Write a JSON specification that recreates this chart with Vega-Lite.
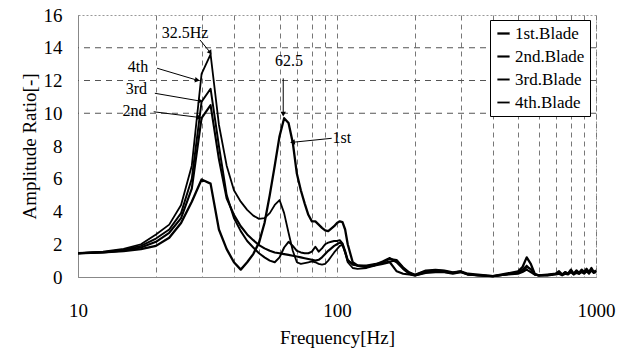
{
  "$schema": "https://vega.github.io/schema/vega-lite/v6.json",
  "width": 518,
  "height": 262,
  "autosize": {"type": "none"},
  "padding": {"left": 78, "top": 15, "right": 23, "bottom": 77},
  "background": "white",
  "config": {
    "font": "Liberation Serif",
    "view": {"stroke": "#999", "strokeDash": [2, 2]},
    "axis": {"labelFont": "Liberation Serif", "titleFont": "Liberation Serif", "labelColor": "black", "titleColor": "black", "titleFontWeight": "normal", "titleFontSize": 19, "labelFontSize": 19, "ticks": false, "labelFlush": false, "labelOverlap": false, "domainColor": "#888",
      "encode": {"labels": {"update": {"font": {"value": "Liberation Serif"}}}, "title": {"update": {"font": {"value": "Liberation Serif"}}}}},
    "axisX": {
      "values": [10, 20, 30, 40, 50, 60, 70, 80, 90, 100, 200, 300, 400, 500, 600, 700, 800, 900, 1000],
      "format": "d",
      "labelExpr": "datum.value == 10 || datum.value == 100 || datum.value == 1000 ? datum.label : ''",
      "labelPadding": 24, "titlePadding": 8,
      "grid": true, "gridColor": "#777", "gridDash": [5, 4], "gridWidth": 1
    },
    "axisY": {
      "values": [0, 2, 4, 6, 8, 10, 12, 14, 16],
      "labelPadding": 16, "titlePadding": 4,
      "grid": false
    },
    "legend": {"labelFont": "Liberation Serif"},
    "text": {"font": "Liberation Serif"}
  },
  "datasets": {
    "curves": [
      {"f": 10, "b1": 1.45, "b2": 1.45, "b3": 1.45, "b4": 1.45},
      {"f": 12.5, "b1": 1.5, "b2": 1.5, "b3": 1.52, "b4": 1.55},
      {"f": 15, "b1": 1.58, "b2": 1.62, "b3": 1.66, "b4": 1.72},
      {"f": 17.5, "b1": 1.7, "b2": 1.8, "b3": 1.9, "b4": 2.0},
      {"f": 20, "b1": 1.9, "b2": 2.15, "b3": 2.35, "b4": 2.6},
      {"f": 22.5, "b1": 2.4, "b2": 2.7, "b3": 2.9, "b4": 3.2},
      {"f": 25, "b1": 3.3, "b2": 3.6, "b3": 3.9, "b4": 4.4},
      {"f": 27.5, "b1": 4.6, "b2": 5.4, "b3": 6.0, "b4": 6.8},
      {"f": 30, "b1": 5.95, "b2": 9.7, "b3": 10.7, "b4": 12.4},
      {"f": 32.5, "b1": 5.7, "b2": 10.5, "b3": 11.5, "b4": 13.6},
      {"f": 35, "b1": 2.9, "b2": 7.2, "b3": 8.0, "b4": 9.3},
      {"f": 37.5, "b1": 1.7, "b2": 4.8, "b3": 5.0, "b4": 6.8},
      {"f": 40, "b1": 0.9, "b2": 3.8, "b3": 3.6, "b4": 5.3},
      {"f": 42.5, "b1": 0.45, "b2": 3.1, "b3": 2.8, "b4": 4.6},
      {"f": 45, "b1": 0.9, "b2": 2.6, "b3": 2.2, "b4": 4.1},
      {"f": 47.5, "b1": 1.4, "b2": 2.25, "b3": 1.8, "b4": 3.75},
      {"f": 50, "b1": 2.1, "b2": 1.95, "b3": 1.45, "b4": 3.55},
      {"f": 52.5, "b1": 3.3, "b2": 1.75, "b3": 1.2, "b4": 3.6},
      {"f": 55, "b1": 5.0, "b2": 1.6, "b3": 1.0, "b4": 3.9},
      {"f": 57.5, "b1": 6.8, "b2": 1.5, "b3": 0.9, "b4": 4.4},
      {"f": 60, "b1": 8.6, "b2": 1.45, "b3": 1.2, "b4": 4.7},
      {"f": 62.5, "b1": 9.7, "b2": 1.4, "b3": 1.8, "b4": 3.9},
      {"f": 65, "b1": 9.4, "b2": 1.35, "b3": 2.15, "b4": 2.7},
      {"f": 67.5, "b1": 8.2, "b2": 1.3, "b3": 1.9, "b4": 1.6},
      {"f": 70, "b1": 6.3, "b2": 1.25, "b3": 1.6, "b4": 0.9},
      {"f": 72.5, "b1": 5.3, "b2": 1.2, "b3": 1.5, "b4": 0.8},
      {"f": 75, "b1": 4.5, "b2": 1.15, "b3": 1.45, "b4": 0.85},
      {"f": 77.5, "b1": 3.8, "b2": 1.1, "b3": 1.45, "b4": 0.9},
      {"f": 80, "b1": 3.4, "b2": 1.05, "b3": 1.55, "b4": 0.95},
      {"f": 82.5, "b1": 3.4, "b2": 1.0, "b3": 1.85, "b4": 0.9},
      {"f": 85, "b1": 3.2, "b2": 1.05, "b3": 1.55, "b4": 0.8},
      {"f": 87.5, "b1": 3.0, "b2": 1.2, "b3": 1.75, "b4": 0.75},
      {"f": 90, "b1": 2.85, "b2": 1.4, "b3": 2.0, "b4": 0.8},
      {"f": 92.5, "b1": 2.8, "b2": 1.6, "b3": 2.1, "b4": 1.0},
      {"f": 95, "b1": 2.95, "b2": 1.75, "b3": 2.15, "b4": 1.25},
      {"f": 97.5, "b1": 3.1, "b2": 1.9, "b3": 2.2, "b4": 1.5},
      {"f": 100, "b1": 3.3, "b2": 2.0, "b3": 2.2, "b4": 1.7},
      {"f": 102.5, "b1": 3.4, "b2": 2.1, "b3": 2.25, "b4": 1.9},
      {"f": 105, "b1": 3.35, "b2": 2.0, "b3": 2.05, "b4": 1.95},
      {"f": 107.5, "b1": 2.9, "b2": 1.5, "b3": 1.6, "b4": 1.5},
      {"f": 110, "b1": 2.0, "b2": 1.0, "b3": 1.05, "b4": 0.9},
      {"f": 115, "b1": 0.9, "b2": 0.8, "b3": 0.75, "b4": 0.55},
      {"f": 120, "b1": 0.7, "b2": 0.7, "b3": 0.7, "b4": 0.5},
      {"f": 130, "b1": 0.6, "b2": 0.65, "b3": 0.7, "b4": 0.55},
      {"f": 140, "b1": 0.75, "b2": 0.7, "b3": 0.8, "b4": 0.7},
      {"f": 150, "b1": 0.95, "b2": 0.8, "b3": 0.85, "b4": 0.9},
      {"f": 160, "b1": 1.15, "b2": 0.9, "b3": 0.95, "b4": 1.1},
      {"f": 170, "b1": 0.9, "b2": 0.35, "b3": 1.0, "b4": 1.05},
      {"f": 180, "b1": 0.5, "b2": 0.2, "b3": 0.55, "b4": 0.6},
      {"f": 190, "b1": 0.2, "b2": 0.15, "b3": 0.25, "b4": 0.3},
      {"f": 200, "b1": 0.1, "b2": 0.1, "b3": 0.12, "b4": 0.15},
      {"f": 220, "b1": 0.3, "b2": 0.25, "b3": 0.35, "b4": 0.4},
      {"f": 240, "b1": 0.4, "b2": 0.3, "b3": 0.35, "b4": 0.45},
      {"f": 260, "b1": 0.35, "b2": 0.3, "b3": 0.3, "b4": 0.4},
      {"f": 280, "b1": 0.25, "b2": 0.2, "b3": 0.25, "b4": 0.3},
      {"f": 300, "b1": 0.35, "b2": 0.3, "b3": 0.3, "b4": 0.35},
      {"f": 320, "b1": 0.2, "b2": 0.15, "b3": 0.15, "b4": 0.15},
      {"f": 350, "b1": 0.15, "b2": 0.1, "b3": 0.1, "b4": 0.1},
      {"f": 400, "b1": 0.05, "b2": 0.05, "b3": 0.05, "b4": 0.05},
      {"f": 450, "b1": 0.2, "b2": 0.15, "b3": 0.15, "b4": 0.15},
      {"f": 500, "b1": 0.35, "b2": 0.2, "b3": 0.25, "b4": 0.3},
      {"f": 520, "b1": 0.6, "b2": 0.3, "b3": 0.35, "b4": 0.45},
      {"f": 540, "b1": 1.2, "b2": 0.45, "b3": 0.6, "b4": 0.7},
      {"f": 560, "b1": 0.8, "b2": 0.3, "b3": 0.5, "b4": 0.45},
      {"f": 580, "b1": 0.2, "b2": 0.15, "b3": 0.15, "b4": 0.15},
      {"f": 600, "b1": 0.1, "b2": 0.1, "b3": 0.1, "b4": 0.1},
      {"f": 650, "b1": 0.15, "b2": 0.1, "b3": 0.12, "b4": 0.1},
      {"f": 700, "b1": 0.2, "b2": 0.15, "b3": 0.2, "b4": 0.2},
      {"f": 720, "b1": 0.35, "b2": 0.2, "b3": 0.25, "b4": 0.3},
      {"f": 740, "b1": 0.15, "b2": 0.1, "b3": 0.15, "b4": 0.15},
      {"f": 760, "b1": 0.3, "b2": 0.2, "b3": 0.25, "b4": 0.3},
      {"f": 780, "b1": 0.2, "b2": 0.15, "b3": 0.2, "b4": 0.2},
      {"f": 800, "b1": 0.45, "b2": 0.3, "b3": 0.35, "b4": 0.4},
      {"f": 820, "b1": 0.2, "b2": 0.15, "b3": 0.2, "b4": 0.2},
      {"f": 840, "b1": 0.4, "b2": 0.25, "b3": 0.3, "b4": 0.35},
      {"f": 860, "b1": 0.25, "b2": 0.2, "b3": 0.2, "b4": 0.25},
      {"f": 880, "b1": 0.45, "b2": 0.3, "b3": 0.35, "b4": 0.4},
      {"f": 900, "b1": 0.3, "b2": 0.2, "b3": 0.25, "b4": 0.3},
      {"f": 920, "b1": 0.5, "b2": 0.35, "b3": 0.4, "b4": 0.45},
      {"f": 940, "b1": 0.3, "b2": 0.2, "b3": 0.25, "b4": 0.3},
      {"f": 960, "b1": 0.55, "b2": 0.4, "b3": 0.45, "b4": 0.5},
      {"f": 980, "b1": 0.3, "b2": 0.25, "b3": 0.3, "b4": 0.3},
      {"f": 1000, "b1": 0.4, "b2": 0.3, "b3": 0.35, "b4": 0.35}
    ],
    "labels": [
      {"t": "32.5Hz", "f": 25.9, "a": 14.93},
      {"t": "4th", "f": 17.05, "a": 12.82},
      {"t": "3rd", "f": 16.8, "a": 11.48},
      {"t": "2nd", "f": 16.52, "a": 10.14},
      {"t": "62.5", "f": 65.3, "a": 13.19},
      {"t": "1st", "f": 104.4, "a": 8.49}
    ],
    "arrows": [
      {"n": "hz", "f": 29.6, "a": 14.47, "f2": 32.3, "a2": 13.74},
      {"n": "4th", "f": 20.2, "a": 12.75, "f2": 28.7, "a2": 12.03},
      {"n": "3rd", "f": 19.8, "a": 11.22, "f2": 29.5, "a2": 10.75},
      {"n": "2nd", "f": 19.6, "a": 10.09, "f2": 29.2, "a2": 9.75},
      {"n": "62.5", "f": 62.0, "a": 12.13, "f2": 62.0, "a2": 10.0},
      {"n": "1st", "f": 95.4, "a": 8.47, "f2": 67.8, "a2": 8.23}
    ],
    "hgrid": [{"a": 10}, {"a": 12}, {"a": 14}]
  },
  "layer": [
    {
      "data": {"name": "hgrid"},
      "mark": {"type": "rule", "color": "#555", "strokeDash": [6, 5], "strokeWidth": 1},
      "encoding": {
        "y": {"field": "a", "type": "quantitative", "title": "Amplitude Ratio[-]", "scale": {"domain": [0, 16], "nice": false}}
      }
    },
    {
      "data": {"name": "curves"},
      "transform": [
        {"fold": ["b1", "b2", "b3", "b4"], "as": ["key", "amp"]},
        {"lookup": "key", "from": {"data": {"values": [
          {"key": "b1", "blade": "1st.Blade"},
          {"key": "b2", "blade": "2nd.Blade"},
          {"key": "b3", "blade": "3rd.Blade"},
          {"key": "b4", "blade": "4th.Blade"}
        ]}, "key": "key", "fields": ["blade"]}}
      ],
      "mark": {"type": "line", "strokeJoin": "round"},
      "encoding": {
        "x": {
          "field": "f", "type": "quantitative", "title": "Frequency[Hz]",
          "scale": {"type": "log", "domain": [10, 1000], "nice": false}
        },
        "y": {
          "field": "amp", "type": "quantitative", "title": "Amplitude Ratio[-]",
          "scale": {"domain": [0, 16], "nice": false}
        },
        "color": {
          "field": "blade", "type": "nominal",
          "scale": {"range": ["black", "black", "black", "black"]},
          "legend": {
            "title": null, "orient": "none", "legendX": 412, "legendY": 5,
            "strokeColor": "black", "fillColor": "white", "padding": 5,
            "labelFont": "Liberation Serif", "labelFontSize": 17, "labelColor": "black",
            "symbolType": "stroke", "symbolSize": 150, "symbolStrokeWidth": 2,
            "rowPadding": 5, "labelOffset": 3,
            "encode": {"labels": {"update": {"font": {"value": "Liberation Serif"}}}}
          }
        },
        "strokeWidth": {
          "field": "blade", "type": "nominal",
          "scale": {"range": [2.3, 1.8, 1.4, 1.4]},
          "legend": null
        }
      }
    },
    {
      "data": {"name": "arrows"},
      "mark": {"type": "rule", "color": "black", "strokeWidth": 1},
      "encoding": {
        "x": {"field": "f", "type": "quantitative", "title": "Frequency[Hz]"},
        "y": {"field": "a", "type": "quantitative", "title": "Amplitude Ratio[-]"},
        "x2": {"field": "f2"},
        "y2": {"field": "a2"}
      }
    },
    {
      "data": {"name": "arrows"},
      "transform": [{"filter": "datum.n == '4th' || datum.n == '3rd' || datum.n == '2nd'"}],
      "mark": {"type": "point", "shape": "triangle", "filled": true, "color": "black", "size": 30, "angle": 100, "opacity": 1},
      "encoding": {"x": {"field": "f2", "type": "quantitative", "title": "Frequency[Hz]"}, "y": {"field": "a2", "type": "quantitative", "title": "Amplitude Ratio[-]"}}
    },
    {
      "data": {"name": "arrows"},
      "transform": [{"filter": "datum.n == 'hz'"}],
      "mark": {"type": "point", "shape": "triangle", "filled": true, "color": "black", "size": 30, "angle": 145, "opacity": 1},
      "encoding": {"x": {"field": "f2", "type": "quantitative", "title": "Frequency[Hz]"}, "y": {"field": "a2", "type": "quantitative", "title": "Amplitude Ratio[-]"}}
    },
    {
      "data": {"name": "arrows"},
      "transform": [{"filter": "datum.n == '62.5'"}],
      "mark": {"type": "point", "shape": "triangle", "filled": true, "color": "black", "size": 30, "angle": 180, "opacity": 1},
      "encoding": {"x": {"field": "f2", "type": "quantitative", "title": "Frequency[Hz]"}, "y": {"field": "a2", "type": "quantitative", "title": "Amplitude Ratio[-]"}}
    },
    {
      "data": {"name": "arrows"},
      "transform": [{"filter": "datum.n == '1st'"}],
      "mark": {"type": "point", "shape": "triangle", "filled": true, "color": "black", "size": 30, "angle": 263, "opacity": 1},
      "encoding": {"x": {"field": "f2", "type": "quantitative", "title": "Frequency[Hz]"}, "y": {"field": "a2", "type": "quantitative", "title": "Amplitude Ratio[-]"}}
    },
    {
      "data": {"name": "labels"},
      "mark": {"type": "text", "font": "Liberation Serif", "fontSize": 16, "color": "black", "align": "center", "baseline": "middle"},
      "encoding": {
        "x": {"field": "f", "type": "quantitative", "title": "Frequency[Hz]"},
        "y": {"field": "a", "type": "quantitative", "title": "Amplitude Ratio[-]"},
        "text": {"field": "t"}
      }
    }
  ]
}
